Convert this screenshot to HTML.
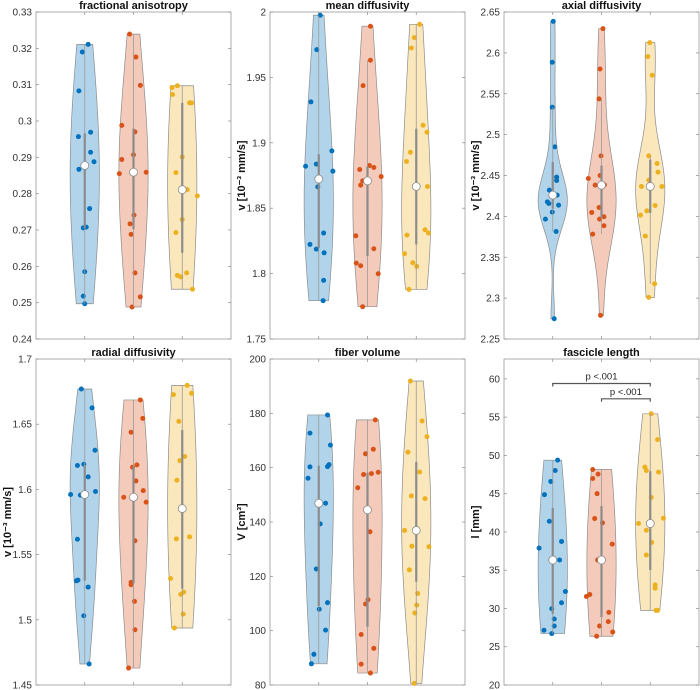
<!DOCTYPE html>
<html><head><meta charset="utf-8"><style>
html,body{margin:0;padding:0;background:#fff;}
svg{display:block;font-family:"Liberation Sans",sans-serif;}
</style></head><body>
<svg id="chart" width="700" height="690" viewBox="0 0 700 690" xmlns="http://www.w3.org/2000/svg"></svg>
<script>
// ---- data (values & jitter per group) ----
const groupNames = ['group-1','group-2','group-3'];
const colors = ['#0072BD','#D95319','#EDB120'];

const faBlue = [0.3211,0.3190,0.3083,0.2957,0.2969,0.2914,0.2888,0.2867,0.2759,0.2706,0.2708,0.2585,0.2518,0.2497];
const faBlueJit = [0.07,-0.05,-0.12,-0.13,0.12,0.12,0.19,-0.12,0.10,-0.03,0.03,0.00,-0.03,0.00];
const faOrange = [0.3239,0.3176,0.3098,0.2988,0.2970,0.2894,0.2907,0.2855,0.2859,0.2717,0.2688,0.2741,0.2582,0.2516,0.2488];
const faOrangeJit = [-0.08,0.05,0.14,-0.24,0.03,-0.24,0.00,-0.29,0.26,-0.07,-0.05,0.01,0.03,0.14,-0.03];
const faYellow = [0.3092,0.3097,0.3073,0.3050,0.3050,0.2901,0.2858,0.2811,0.2794,0.2729,0.2693,0.2575,0.2571,0.2582,0.2537];
const faYellowJit = [-0.21,-0.10,-0.20,0.15,0.19,0.00,-0.13,0.10,0.31,0.00,-0.13,-0.10,-0.03,0.09,0.21];

const mdBlue = [1.9975,1.9712,1.9313,1.8821,1.8837,1.8663,1.8938,1.8783,1.8223,1.8187,1.8310,1.8159,1.7948,1.7793];
const mdBlueJit = [0.03,-0.04,-0.16,-0.27,-0.05,-0.02,0.27,0.29,-0.18,-0.05,0.10,0.11,0.10,0.09];
const mdOrange = [1.9891,1.9631,1.9437,1.8826,1.8811,1.8796,1.8709,1.8676,1.8742,1.8289,1.8080,1.8060,1.8190,1.7999,1.7747];
const mdOrangeJit = [0.06,0.06,-0.09,0.04,0.13,-0.16,-0.10,-0.14,0.28,-0.24,-0.23,-0.14,0.13,0.22,-0.10];
const mdYellow = [1.9906,1.9804,1.9725,1.9134,1.9081,1.8928,1.8857,1.8666,1.8294,1.8152,1.8083,1.8055,1.7879,1.8335,1.8310];
const mdYellowJit = [0.07,-0.04,-0.10,0.14,0.22,-0.12,-0.20,0.23,-0.19,-0.24,-0.07,0.01,-0.15,0.18,0.25];

const adBlue = [2.6386,2.5885,2.5335,2.4850,2.4480,2.4439,2.4321,2.4260,2.4178,2.4158,2.4137,2.4052,2.3966,2.3815,2.2748];
const adBlueJit = [0.01,-0.01,-0.01,0.04,0.08,0.08,-0.07,0.09,-0.11,-0.08,0.12,-0.01,-0.15,0.07,0.03];
const adOrange = [2.6296,2.5803,2.5437,2.4740,2.4500,2.4463,2.4386,2.4382,2.4109,2.4048,2.3995,2.3966,2.3885,2.3783,2.2789];
const adOrangeJit = [0.03,-0.03,-0.05,-0.01,-0.03,-0.27,0.06,-0.13,-0.05,-0.20,0.05,-0.04,0.05,-0.18,-0.02];
const adYellow = [2.6125,2.5954,2.5726,2.4740,2.4647,2.4541,2.4443,2.4366,2.4366,2.4068,2.4133,2.4015,2.3759,2.3176,2.3009];
const adYellowJit = [-0.01,-0.05,0.04,-0.03,0.14,0.16,-0.03,0.24,-0.18,-0.07,0.10,-0.20,-0.10,0.09,-0.03];

const rdBlue = [1.6770,1.6625,1.6300,1.6183,1.6193,1.6096,1.5984,1.5961,1.5956,1.5618,1.5299,1.5304,1.5251,1.5031,1.4661];
const rdBlueJit = [-0.07,0.15,0.21,-0.15,-0.02,0.07,0.22,-0.29,-0.09,-0.15,-0.17,-0.14,0.07,-0.02,0.09];
const rdOrange = [1.6686,1.6545,1.6438,1.6188,1.6170,1.6065,1.5991,1.5940,1.5902,1.5606,1.5287,1.5269,1.5141,1.4924,1.4630];
const rdOrangeJit = [0.14,0.19,-0.05,0.07,-0.02,0.05,0.20,-0.20,0.26,0.03,-0.05,-0.05,0.02,0.03,-0.10];
const rdYellow = [1.6798,1.6727,1.6737,1.6522,1.6221,1.6252,1.6070,1.5636,1.5621,1.5317,1.5212,1.5195,1.5044,1.4937];
const rdYellowJit = [0.10,-0.18,0.19,-0.07,-0.05,0.05,-0.11,0.15,-0.12,-0.24,0.03,-0.03,0.02,-0.16];

const fvBlue = [179.4,172.7,168.3,160.3,161.1,160.4,156.1,146.9,139.3,122.7,110.3,107.9,100.2,91.3,87.8];
const fvBlueJit = [0.18,-0.18,0.24,-0.18,0.21,0.18,-0.22,0.14,0.03,-0.05,0.18,0.01,0.14,-0.10,-0.15];
const fvOrange = [177.6,166.8,165.1,157.5,157.8,158.3,152.6,136.4,111.4,109.8,98.6,93.5,87.7,84.4];
const fvOrangeJit = [0.16,0.12,-0.04,-0.08,0.08,0.22,-0.20,0.05,0.01,-0.04,-0.13,0.13,-0.13,0.06];
const fvYellow = [191.9,177.2,171.4,165.7,158.4,149.6,148.6,136.9,131.1,130.9,122.4,113.7,109.4,106.5,80.6];
const fvYellowJit = [-0.12,0.12,0.22,-0.17,0.07,-0.10,0.18,-0.24,-0.09,0.26,-0.14,0.03,0.01,-0.03,-0.04];

const flBlue = [49.38,48.03,46.60,44.87,41.40,37.89,38.76,36.33,32.22,30.75,29.97,28.62,27.71,27.15,26.72];
const flBlueJit = [0.10,0.05,-0.04,-0.17,-0.07,-0.28,0.18,0.14,0.26,0.18,-0.02,0.03,0.03,-0.18,-0.02];
const flOrange = [48.16,46.99,47.56,45.00,41.75,41.19,38.41,36.33,31.83,31.57,29.49,28.28,27.71,26.93,26.37];
const flOrangeJit = [-0.18,-0.18,-0.07,-0.09,-0.14,0.02,0.22,-0.08,-0.24,-0.31,0.15,0.14,-0.04,0.23,-0.10];
const flYellow = [55.44,52.06,48.47,48.03,47.82,44.52,41.10,41.79,40.23,38.63,36.98,33.08,32.65,29.75,29.75];
const flYellowJit = [0.02,0.15,-0.11,-0.08,0.17,0.02,-0.24,0.27,-0.08,0.03,-0.08,0.10,0.10,0.12,0.15];

const faTicks = ['0.24','0.25','0.26','0.27','0.28','0.29','0.3','0.31','0.32','0.33'];
const mdTicks = ['1.75','1.8','1.85','1.9','1.95','2'];
const adTicks = ['2.25','2.3','2.35','2.4','2.45','2.5','2.55','2.6','2.65'];
const rdTicks = ['1.45','1.5','1.55','1.6','1.65','1.7'];
const fvTicks = ['80','100','120','140','160','180','200'];
const flTicks = ['20','25','30','35','40','45','50','55','60'];

const sigBrackets = [[1,3,59.4,'p <.001'],[2,3,57.4,'p <.001']];

const panels = [
 {name:'fractional-anisotropy',title:'fractional anisotropy',ylabel:'',x:36,y:12,w:195,h:327,ymin:0.24,ymax:0.33,ticks:faTicks,
  groups:[[faBlue,faBlueJit],[faOrange,faOrangeJit],[faYellow,faYellowJit]]},
 {name:'mean-diffusivity',title:'mean diffusivity',ylabel:'v [10⁻³ mm/s]',x:270,y:12,w:195,h:327,ymin:1.75,ymax:2,ticks:mdTicks,
  groups:[[mdBlue,mdBlueJit],[mdOrange,mdOrangeJit],[mdYellow,mdYellowJit]]},
 {name:'axial-diffusivity',title:'axial diffusivity',ylabel:'v [10⁻³ mm/s]',x:504,y:12,w:195,h:327,ymin:2.25,ymax:2.65,ticks:adTicks,
  groups:[[adBlue,adBlueJit],[adOrange,adOrangeJit],[adYellow,adYellowJit]]},
 {name:'radial-diffusivity',title:'radial diffusivity',ylabel:'v [10⁻³ mm/s]',x:36,y:359,w:195,h:326,ymin:1.45,ymax:1.7,ticks:rdTicks,
  groups:[[rdBlue,rdBlueJit],[rdOrange,rdOrangeJit],[rdYellow,rdYellowJit]]},
 {name:'fiber-volume',title:'fiber volume',ylabel:'V [cm³]',x:270,y:359,w:195,h:326,ymin:80,ymax:200,ticks:fvTicks,
  groups:[[fvBlue,fvBlueJit],[fvOrange,fvOrangeJit],[fvYellow,fvYellowJit]]},
 {name:'fascicle-length',title:'fascicle length',ylabel:'l [mm]',x:504,y:359,w:195,h:326,ymin:20,ymax:62.6,ticks:flTicks,
  groups:[[flBlue,flBlueJit],[flOrange,flOrangeJit],[flYellow,flYellowJit]],sig:sigBrackets}
];

const NS='http://www.w3.org/2000/svg';
const svg=document.getElementById('chart');
function mk(tag,attrs,parent){const e=document.createElementNS(NS,tag);for(const k in attrs)e.setAttribute(k,attrs[k]);(parent||svg).appendChild(e);return e;}
function quant(s,p){const i=(s.length-1)*p,lo=Math.floor(i),hi=Math.ceil(i);return s[lo]+(s[hi]-s[lo])*(i-lo);}

panels.forEach(P=>{
  const g=mk('g',{});
  
  
  const xs=v=>P.x+v/4*P.w;
  const ys=v=>P.y+P.h-(v-P.ymin)/(P.ymax-P.ymin)*P.h;
  const fr=mk('rect',{x:P.x,y:P.y,width:P.w,height:P.h,fill:'#fff',stroke:'#8a8a8a','stroke-width':0.7},g);
  
  
  P.ticks.forEach(t=>{
    const yy=ys(parseFloat(t));
    mk('line',{x1:P.x,x2:P.x+3,y1:yy,y2:yy,stroke:'#8a8a8a','stroke-width':0.7},g);
    mk('line',{x1:P.x+P.w-3,x2:P.x+P.w,y1:yy,y2:yy,stroke:'#8a8a8a','stroke-width':0.7},g);
    const tx=mk('text',{x:P.x-4,y:yy+3.5,'text-anchor':'end','font-size':10,fill:'#333'},g);
    tx.textContent=t;
    
    
  });
  [1,2,3].forEach(c=>{
    mk('line',{x1:xs(c),x2:xs(c),y1:P.y,y2:P.y+3,stroke:'#8a8a8a','stroke-width':0.7},g);
    mk('line',{x1:xs(c),x2:xs(c),y1:P.y+P.h-3,y2:P.y+P.h,stroke:'#8a8a8a','stroke-width':0.7},g);
  });
  const ti=mk('text',{x:P.x+P.w/2,y:P.y-3,'text-anchor':'middle','font-size':11,'font-weight':'bold',fill:'#111'},g);
  ti.textContent=P.title;
  
  
  if(P.ylabel){
    const cx=P.x-25,cy=P.y+P.h/2;
    const yl=mk('text',{x:cx,y:cy,'text-anchor':'middle','font-size':11,'font-weight':'bold',fill:'#111',transform:`rotate(-90 ${cx} ${cy})`},g);
    yl.textContent=P.ylabel;
    
    
  }
  P.groups.forEach((gr,gi)=>{
    const vals=gr[0],jit=gr[1],c=gi+1,col=colors[gi];
    const s=vals.slice().sort((a,b)=>a-b),n=s.length;
    const med=quant(s,0.5),q1=quant(s,0.25),q3=quant(s,0.75);
    const dev=s.map(v=>Math.abs(v-med)).sort((a,b)=>a-b);
    let sig=quant(dev,0.5)/0.6745; if(!(sig>0)) sig=(s[n-1]-s[0])/4||1;
    const bw=1.35*sig*Math.pow(4/(3*n),0.2);
    const lo=s[0],hi=s[n-1],N=80,dens=[];
    for(let i=0;i<=N;i++){const y=lo+(hi-lo)*i/N;let d=0;s.forEach(v=>{const z=(y-v)/bw;d+=Math.exp(-0.5*z*z);});dens.push([y,d]);}
    const mx=Math.max(...dens.map(d=>d[1]));
    let pts=dens.map(d=>[xs(c+0.3*d[1]/mx),ys(d[0])]);
    let left=dens.slice().reverse().map(d=>[xs(c-0.3*d[1]/mx),ys(d[0])]);
    const vp=mk('polygon',{points:pts.concat(left).map(p=>p[0].toFixed(2)+','+p[1].toFixed(2)).join(' '),fill:col,'fill-opacity':0.3,stroke:'#8c8c8c','stroke-width':0.7},g);
    
    
    vals.forEach((v,i)=>{
      const d=mk('circle',{cx:xs(c+jit[i]),cy:ys(v),r:2.5,fill:col},g);
      
      
    });
    const iqr=q3-q1;
    const wlo=Math.min(...s.filter(v=>v>=q1-1.5*iqr)),whi=Math.max(...s.filter(v=>v<=q3+1.5*iqr));
    const wl=mk('line',{x1:xs(c),x2:xs(c),y1:ys(wlo),y2:ys(whi),stroke:'#9a9a9a','stroke-width':0.8},g);
    
    
    const bx=mk('line',{x1:xs(c),x2:xs(c),y1:ys(q1),y2:ys(q3),stroke:'#8c8c8c','stroke-width':2.2},g);
    
    
    const md=mk('circle',{cx:xs(c),cy:ys(med),r:4,fill:'#fff',stroke:'#8c8c8c','stroke-width':0.8},g);
    
    
  });
  if(P.sig){
    P.sig.forEach(b=>{
      const x1=xs(b[0]),x2=xs(b[1]),yy=ys(b[2]);
      const br=mk('path',{d:`M${x1},${yy+3}V${yy}H${x2}V${yy+3}`,fill:'none',stroke:'#555','stroke-width':1.2},g);
      
      
      const t=mk('text',{x:(x1+x2)/2,y:yy-4,'text-anchor':'middle','font-size':9.5,fill:'#222'},g);
      t.textContent=b[3];
      
      
    });
  }
});
</script>
</body></html>
